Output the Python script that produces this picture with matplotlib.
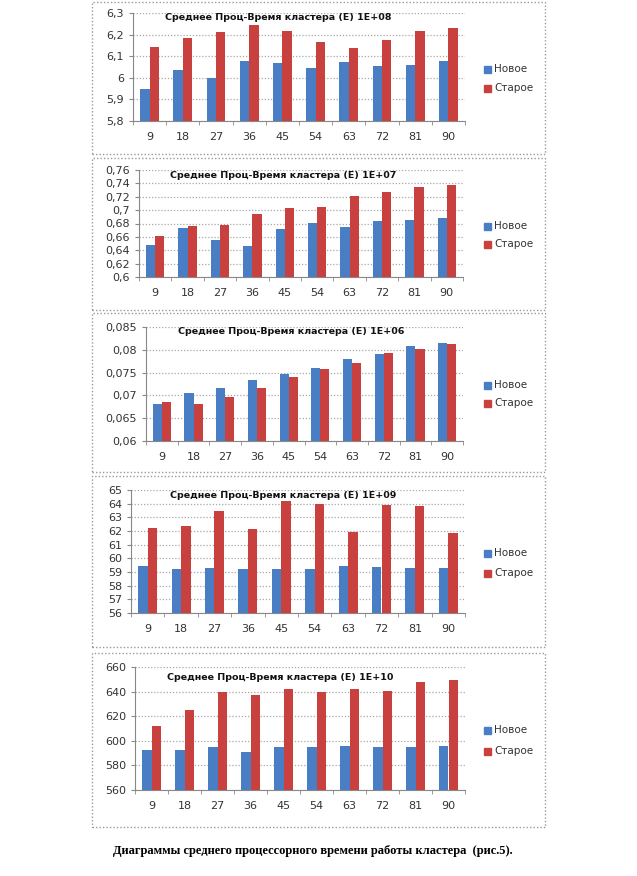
import matplotlib
matplotlib.use("Agg")
import matplotlib.pyplot as plt
from matplotlib.patches import Rectangle
from matplotlib.ticker import FuncFormatter, MultipleLocator
import numpy as np

W, H = 637, 876

cats = ["9", "18", "27", "36", "45", "54", "63", "72", "81", "90"]

new_e08 = [5.950, 6.036, 6.000, 6.078, 6.069, 6.047, 6.073, 6.053, 6.059, 6.078]
old_e08 = [6.142, 6.184, 6.213, 6.244, 6.218, 6.168, 6.137, 6.176, 6.215, 6.232]

new_e07 = [0.6482, 0.674, 0.656, 0.646, 0.6716, 0.681, 0.6755, 0.6835, 0.6855, 0.6875]
old_e07 = [0.6616, 0.676, 0.6775, 0.6944, 0.7029, 0.7053, 0.7217, 0.7267, 0.7347, 0.7381]

new_e06 = [0.06816, 0.0705, 0.0716, 0.0734, 0.0748, 0.0761, 0.0779, 0.0790, 0.0808, 0.0815]
old_e06 = [0.06845, 0.0681, 0.0696, 0.0717, 0.0741, 0.0757, 0.0772, 0.0794, 0.0802, 0.0812]

new_e09 = [59.43, 59.24, 59.31, 59.21, 59.21, 59.21, 59.43, 59.36, 59.31, 59.28]
old_e09 = [62.25, 62.35, 63.47, 62.16, 64.22, 63.96, 61.96, 63.91, 63.81, 61.82]

new_e10 = [592.7, 592.4, 594.9, 591.1, 595.1, 594.6, 595.7, 594.6, 595.1, 595.7]
old_e10 = [611.9, 625.4, 640.0, 637.6, 642.2, 639.5, 642.2, 640.5, 647.6, 649.7]

titles = ["Среднее Проц-Время кластера (E) 1E+08",
          "Среднее Проц-Время кластера (E) 1E+07",
          "Среднее Проц-Время кластера (E) 1E+06",
          "Среднее Проц-Время кластера (E) 1E+09",
          "Среднее Проц-Время кластера (E) 1E+10"]
series_names = ["Новое", "Старое"]
caption = "Диаграммы среднего процессорного времени работы кластера  (рис.5)."

BLUE = "#4a7ec4"
RED = "#c8413f"

# (frame top, frame bottom, axes left, right, top, bottom, title x, title y, legend y1, legend y2, ylim, step)
panels = [
    (2, 154, 133, 465, 13, 121, 165, 18, 69, 88, (5.8, 6.3), 0.1),
    (158, 310, 139, 463, 170, 277, 170, 175, 226, 244, (0.6, 0.76), 0.02),
    (313, 472, 146, 463, 327, 441, 178, 332, 385, 403, (0.06, 0.085), 0.005),
    (476, 647, 131, 465, 490, 613, 170, 495, 553, 573, (56, 65), 1),
    (653, 827, 135, 465, 667, 790, 167, 677, 730, 751, (560, 660), 20),
]
data = [(new_e08, old_e08), (new_e07, old_e07), (new_e06, old_e06),
        (new_e09, old_e09), (new_e10, old_e10)]

fig = plt.figure(figsize=(W / 100, H / 100), dpi=100)
plt.rcParams['font.family'] = ['DejaVu Sans']


def fmt(v, pos):
    return ("%g" % round(v, 6)).replace(".", ",")


x = np.arange(len(cats))
bw = 0.286
for i, p in enumerate(panels):
    ft, fb, l, r, t, b, tx, ty, ly1, ly2, ylim, step = p
    # dotted frame around each chart
    fig.patches.append(Rectangle((92 / W, 1 - fb / H), (545 - 92) / W, (fb - ft) / H,
                                 transform=fig.transFigure, fill=False,
                                 edgecolor="#9a9a9a", linestyle=(0, (1, 1.5)), lw=1.0))
    ax = fig.add_axes([l / W, 1 - b / H, (r - l) / W, (b - t) / H])
    nv, ov = data[i]
    ax.bar(x - bw / 2, nv, bw, color=BLUE, zorder=3)
    ax.bar(x + bw / 2, ov, bw, color=RED, zorder=3)
    ax.set_xlim(-0.5, 9.5)
    ax.set_ylim(*ylim)
    ax.yaxis.set_major_locator(MultipleLocator(step))
    ax.yaxis.set_major_formatter(FuncFormatter(fmt))
    ax.set_xticks(x)
    ax.set_xticklabels(cats)
    ax.set_xticks(np.arange(-0.5, 10, 1), minor=True)
    ax.tick_params(axis="x", which="major", length=0, pad=8, labelsize=8, colors="#333333")
    ax.tick_params(axis="x", which="minor", length=3, color="#888888")
    ax.tick_params(axis="y", length=3, color="#888888", labelsize=8, labelcolor="#333333", pad=3.5)
    ax.grid(axis="y", linestyle=(0, (1, 1.5)), color="#a8a8a8", lw=0.9, zorder=0)
    for s in ["top", "right"]:
        ax.spines[s].set_visible(False)
    for s in ["left", "bottom"]:
        ax.spines[s].set_color("#888888")
        ax.spines[s].set_linewidth(0.8)
    fig.text(tx / W, 1 - ty / H, titles[i], fontsize=6.8, fontweight="bold",
             ha="left", va="center", color="#111111")
    # legend
    for yy, col, nm in [(ly1, BLUE, series_names[0]), (ly2, RED, series_names[1])]:
        fig.patches.append(Rectangle((483.5 / W, 1 - (yy + 3.5) / H), 7 / W, 7 / H,
                                     transform=fig.transFigure, color=col))
        fig.text(494 / W, 1 - yy / H, nm, fontsize=7.5, ha="left", va="center", color="#333333")

fig.text(313 / W, 1 - 851 / H, caption, fontsize=9, fontweight="bold",
         family="Liberation Serif", ha="center", va="center")

fig.savefig("out.png", dpi=100, facecolor="white")
